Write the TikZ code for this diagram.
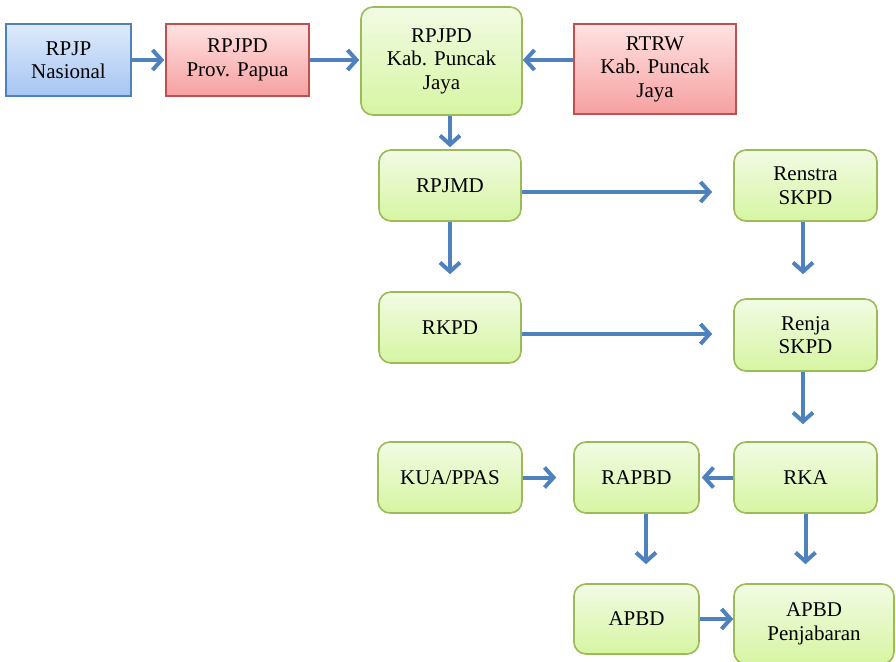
\documentclass[tikz,border=0pt]{standalone}
\usepackage{fontspec}
\setmainfont{Liberation Serif}
\usetikzlibrary{arrows.meta}
\definecolor{gtop}{RGB}{242,251,228}
\definecolor{gbot}{RGB}{214,245,162}
\definecolor{gline}{RGB}{155,187,89}
\definecolor{btop}{RGB}{222,234,251}
\definecolor{bbot}{RGB}{166,197,242}
\definecolor{bline}{RGB}{79,129,189}
\definecolor{rtop}{RGB}{255,226,226}
\definecolor{rbot}{RGB}{246,160,160}
\definecolor{rline}{RGB}{192,80,77}
\definecolor{arrcol}{RGB}{79,129,189}
\tikzset{
  boxbase/.style={draw, line width=1.6pt, align=center, inner sep=2pt,
    font=\fontsize{21}{23.5}\selectfont},
  gbox/.style={boxbase, draw=gline, top color=gtop, bottom color=gbot, rounded corners=12pt},
  bbox/.style={boxbase, draw=bline, top color=btop, bottom color=bbot},
  rbox/.style={boxbase, draw=rline, top color=rtop, bottom color=rbot},
  arr/.style={draw=arrcol, line width=4pt, -{Straight Barb[length=9pt,width=20pt,line width=4pt]}},
}
\begin{document}
\begin{tikzpicture}[x=1pt,y=-1pt]
\useasboundingbox (0,0) rectangle (896,661);
\node[bbox, minimum width=125pt, minimum height=72pt] (rpjp) at (68.5,60) {RPJP\\Nasional};
\node[rbox, minimum width=143pt, minimum height=72pt] (prov) at (237.5,60) {RPJPD\\Prov. Papua};
\node[gbox, minimum width=161pt, minimum height=108pt] (kab) at (441.5,61) {RPJPD\\Kab. Puncak\\Jaya};
\node[rbox, minimum width=162pt, minimum height=90pt] (rtrw) at (655,69) {RTRW\\Kab. Puncak\\Jaya};
\node[gbox, minimum width=142pt, minimum height=71pt] (rpjmd) at (450,185.5) {RPJMD};
\node[gbox, minimum width=143pt, minimum height=71pt] (renstra) at (805.5,185.5) {Renstra\\SKPD};
\node[gbox, minimum width=142pt, minimum height=71pt] (rkpd) at (450,327.5) {RKPD};
\node[gbox, minimum width=143pt, minimum height=72pt] (renja) at (805.5,335) {Renja\\SKPD};
\node[gbox, minimum width=144pt, minimum height=71pt] (kua) at (450,477.5) {KUA/PPAS};
\node[gbox, minimum width=125pt, minimum height=71pt] (rapbd) at (636.5,477.5) {RAPBD};
\node[gbox, minimum width=143pt, minimum height=71pt] (rka) at (805.5,477.5) {RKA};
\node[gbox, minimum width=125pt, minimum height=70pt] (apbd) at (636.5,619) {APBD};
\node[gbox, minimum width=160pt, minimum height=80pt] (penj) at (814,624) {APBD\\Penjabaran};

\draw[arr, shorten >=1pt] (rpjp.east) -- (prov.west);
\draw[arr, shorten >=1pt] (prov.east) -- (prov.east -| kab.west);
\draw[arr, shorten >=0pt] ([yshift=9pt]rtrw.west) -- ([yshift=9pt]rtrw.west -| kab.east);
\draw[arr, shorten >=2pt] ([xshift=8.5pt]kab.south) -- ([xshift=8.5pt]kab.south |- rpjmd.north);
\draw[arr, shorten >=21pt] ([yshift=-6.5pt]rpjmd.east) -- ([yshift=-6.5pt]renstra.west);
\draw[arr, shorten >=17pt] (rpjmd.south) -- (rkpd.north);
\draw[arr, shorten >=24pt] ([xshift=-2.5pt]renstra.south) -- ([xshift=-2.5pt]renja.north);
\draw[arr, shorten >=21pt] ([yshift=-6.5pt]rkpd.east) -- ([yshift=-6.5pt]rkpd.east -| renja.west);
\draw[arr, shorten >=17pt] ([xshift=-2.5pt]renja.south) -- ([xshift=-2.5pt]renja.south |- rka.north);
\draw[arr, shorten >=17pt] (kua.east) -- (rapbd.west);
\draw[arr, shorten >=2pt] (rka.west) -- (rapbd.east);
\draw[arr, shorten >=19pt] ([xshift=9.5pt]rapbd.south) -- ([xshift=9.5pt]apbd.north);
\draw[arr, shorten >=19pt] (rka.south) -- (rka.south |- penj.north);
\draw[arr, shorten >=0pt] (apbd.east) -- (apbd.east -| penj.west);
\end{tikzpicture}
\end{document}
